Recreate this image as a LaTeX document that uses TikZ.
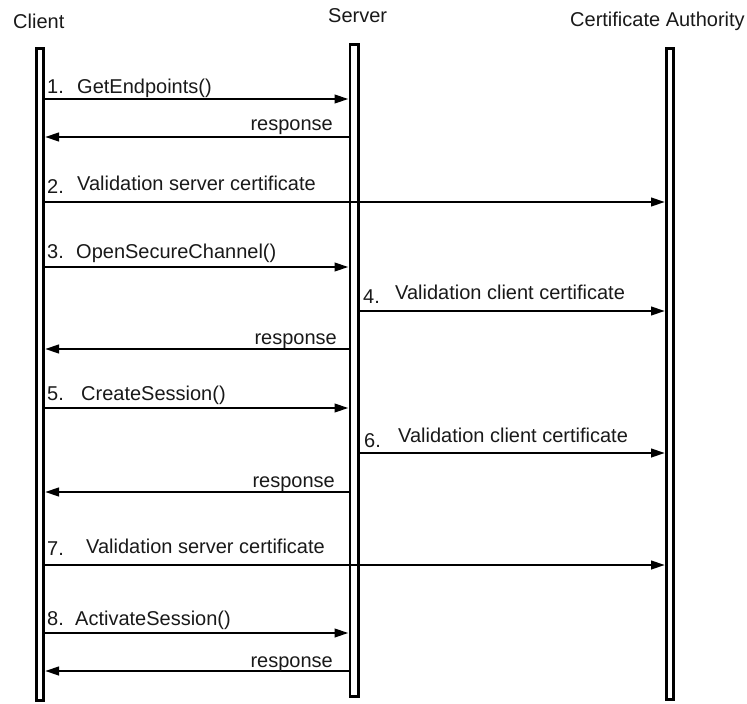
\documentclass[tikz,border=0pt]{standalone}
\usepackage{fontspec}
\setmainfont{Liberation Sans}
\usetikzlibrary{arrows.meta}
\begin{document}
\begin{tikzpicture}[x=1pt,y=-1pt,
  lbl/.style={inner sep=0pt, anchor=base west, text=black!90, font=\fontsize{20}{24}\selectfont},
  rlbl/.style={lbl, anchor=base east},
  life/.style={draw=black, fill=white, line width=2.8pt, inner sep=0pt, anchor=north},
  msg/.style={line width=2.6pt, -{Triangle[length=14pt,width=8.5pt]}},
]
\useasboundingbox (0,0) rectangle (747,704);

% participant names
\node[lbl] (tclient) at (13,28) {Client};
\node[lbl] (tserver) at (328,22) {Server};
\node[lbl] (tca) at (570,27) {Certificate Authority};

% lifelines
\node[life, minimum width=7.2pt, minimum height=652.2pt] (cbar) at (40,47) {};
\node[life, minimum width=8.2pt, minimum height=652.2pt] (sbar) at (354,43) {};
\node[life, minimum width=7.2pt, minimum height=651.2pt] (abar) at (670,47) {};

% messages
\draw[msg] (cbar.east |- 0,99) -- (sbar.west |- 0,99);
\draw[msg] (sbar.west |- 0,137) -- (cbar.east |- 0,137);
\draw[msg] (cbar.east |- 0,202) -- (abar.west |- 0,202);
\draw[msg] (cbar.east |- 0,267) -- (sbar.west |- 0,267);
\draw[msg] (sbar.east |- 0,311) -- (abar.west |- 0,311);
\draw[msg] (sbar.west |- 0,349) -- (cbar.east |- 0,349);
\draw[msg] (cbar.east |- 0,408) -- (sbar.west |- 0,408);
\draw[msg] (sbar.east |- 0,453) -- (abar.west |- 0,453);
\draw[msg] (sbar.west |- 0,492) -- (cbar.east |- 0,492);
\draw[msg] (cbar.east |- 0,565) -- (abar.west |- 0,565);
\draw[msg] (cbar.east |- 0,633) -- (sbar.west |- 0,633);
\draw[msg] (sbar.west |- 0,671) -- (cbar.east |- 0,671);

% message labels
\node[lbl] (n1) at (47,93) {1.};
\node[lbl] (m1) at (77,93) {GetEndpoints()};
\node[rlbl] (r1) at (333,130) {response};
\node[lbl] (n2) at (47,193) {2.};
\node[lbl] (m2) at (77,190) {Validation server certificate};
\node[lbl] (n3) at (47,258) {3.};
\node[lbl] (m3) at (76,258) {OpenSecureChannel()};
\node[lbl] (n4) at (363,303) {4.};
\node[lbl] (m4) at (395,299) {Validation client certificate};
\node[rlbl] (r2) at (337,344) {response};
\node[lbl] (n5) at (47,400) {5.};
\node[lbl] (m5) at (81,400) {CreateSession()};
\node[lbl] (n6) at (364,447) {6.};
\node[lbl] (m6) at (398,442) {Validation client certificate};
\node[rlbl] (r3) at (335,487) {response};
\node[lbl] (n7) at (47,555) {7.};
\node[lbl] (m7) at (86,553) {Validation server certificate};
\node[lbl] (n8) at (47,625) {8.};
\node[lbl] (m8) at (75,625) {ActivateSession()};
\node[rlbl] (r4) at (333,667) {response};
\end{tikzpicture}
\end{document}
